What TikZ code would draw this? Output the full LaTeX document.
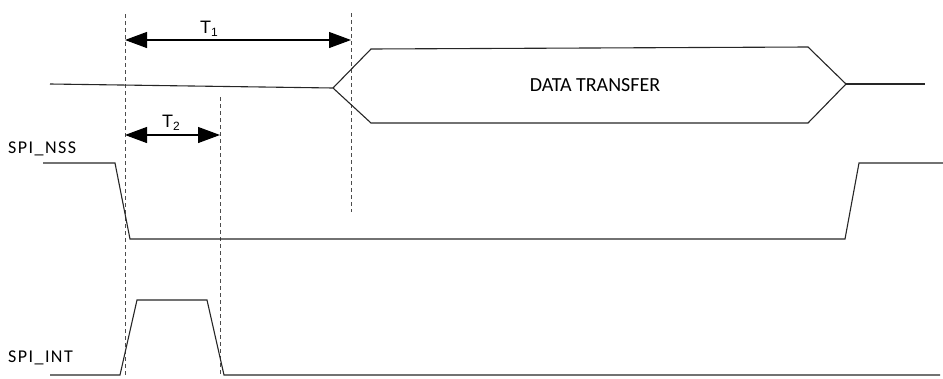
\documentclass[tikz,border=0pt]{standalone}
\usepackage{fontspec}
\setmainfont{Carlito}
\newfontfamily\sigfont[LetterSpace=8]{Carlito}
\newfontfamily\tfont{Liberation Sans}
\usetikzlibrary{arrows.meta}
\newcommand{\tlab}[1]{{\tfont\fontsize{18}{18}\selectfont T\raisebox{-3pt}{\fontsize{12}{12}\selectfont #1}}}
\tikzset{
  wave/.style={line width=1.1pt, black!85, line join=miter},
  marker/.style={dash pattern=on 4pt off 3pt, line width=0.9pt, black!70},
  span/.style={{Triangle[length=22pt,width=16pt]}-{Triangle[length=22pt,width=16pt]}, line width=1.1pt},
  siglabel/.style={font=\sigfont\fontsize{18}{20}\selectfont, anchor=base west, inner sep=0pt},
}

\begin{document}
\begin{tikzpicture}[x=1pt,y=-1pt]
\useasboundingbox (0,0) rectangle (943,378);
% markers
\coordinate (m1t) at (125,14);  \coordinate (m1b) at (125,377);
\coordinate (m2t) at (351,13);  \coordinate (m2b) at (351,212);
\coordinate (m3t) at (220,97);  \coordinate (m3b) at (220,376);
\draw[marker] (m1t) -- (m1b);
\draw[marker] (m2t) -- (m2b);
\draw[marker] (m3t) -- (m3b);
% timing spans
\draw[span] (125,40) coordinate (t1a) -- (351,40) coordinate (t1b);
\draw[span] (125,135) coordinate (t2a) -- (220,135) coordinate (t2b);
\node[anchor=base west, inner sep=0pt] (T1) at (200,33) {\tlab{1}};
\node[anchor=base west, inner sep=0pt] (T2) at (162,127) {\tlab{2}};
% data bus
\draw[wave] (50,84) -- (333,88) coordinate (dl)
  -- (371,49) -- (808,47) -- (846,84) coordinate (dr)
  -- (808,123) -- (371,123) -- (dl);
\draw[wave] (dr) -- (925,84);
\node[font=\fontsize{20}{22}\selectfont, inner sep=0pt] (data) at (595,85) {DATA TRANSFER};
% SPI_NSS
\node[siglabel] (nss) at (8,153) {SPI\_NSS};
\draw[wave] (43,163) -- (115,163) -- (130,239) -- (845,239) -- (859,163) -- (943,163);
% SPI_INT
\node[siglabel] (int) at (8,362) {SPI\_INT};
\draw[wave] (50,375) -- (120,375) -- (137,300) -- (207,300) -- (224,375) -- (940,375);
\end{tikzpicture}
\end{document}
